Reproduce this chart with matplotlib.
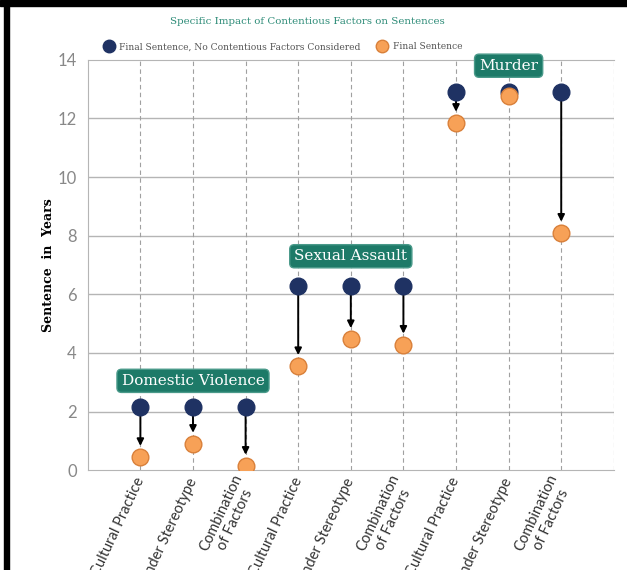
import matplotlib.pyplot as plt
import matplotlib.patches as patches
import numpy as np

# categories and values
factors = ['Cultural Practice', 'Gender Stereotype', 'Combination\nof Factors'] * 3
crimes = ['Domestic Violence', 'Sexual Assault', 'Murder']
no_factor = [2.15, 2.15, 2.15, 6.3, 6.3, 6.3, 12.9, 12.9, 12.9]
final = [0.45, 0.9, 0.15, 3.55, 4.47, 4.28, 11.85, 12.75, 8.1]
crime_label_y = [3.05, 7.3, 13.8]

navy = '#1f3263'
orange = '#f7a157'
teal = '#1d7a68'

fig = plt.figure(figsize=(6.27, 5.70), dpi=100)
ax = fig.add_axes([0.140, 0.175, 0.839, 0.720])

x = np.arange(1, len(factors) + 1)

# grid
ax.set_xlim(0, 10)
ax.set_ylim(0, 14)
ax.set_yticks(range(0, 15, 2))
for yv in range(2, 14, 2):
    ax.axhline(yv, color='#b5b5b5', lw=1, zorder=0)
for xv in list(x) + [10]:
    ax.axvline(xv, color='#a0a0a0', lw=0.8, ls=(0, (4, 3)), zorder=0)
for s in ['left', 'top', 'bottom']:
    ax.spines[s].set_color('#b5b5b5')
ax.spines['right'].set_visible(False)

# arrows from no-factor sentence down to final sentence
for xi, a, b in zip(x, no_factor, final):
    if a - b > 0.3:
        ax.annotate('', xy=(xi, b), xytext=(xi, a),
                    arrowprops=dict(arrowstyle='-|>', color='black', lw=1.4,
                                    shrinkA=0, shrinkB=8, mutation_scale=10),
                    zorder=2)

ax.plot(x, no_factor, 'o', color=navy, ms=12, zorder=3, ls='none',
        label='Final Sentence, No Contentious Factors Considered')
ax.plot(x, final, 'o', color=orange, mec='#d9803a', mew=1, ms=12, zorder=4,
        ls='none', label='Final Sentence')

# crime group boxes
for i, (name, yl) in enumerate(zip(crimes, crime_label_y)):
    ax.text(x[i * 3 + 1], yl, name, ha='center', va='center', color='white',
            fontsize=11, family='DejaVu Serif', zorder=5,
            bbox=dict(boxstyle='round,pad=0.3,rounding_size=0.3', fc=teal,
                      ec='#4a9a8a', lw=1))

ax.set_xticks(x)
ax.set_xticklabels(factors, rotation=65, ha='right', va='center',
                   rotation_mode='anchor', multialignment='center',
                   fontsize=10.5, family='Lato', color='#333333')
ax.tick_params(axis='x', length=0, pad=6)
ax.tick_params(axis='y', length=0, labelsize=12, labelcolor='#888888', pad=8)
for lab in ax.get_yticklabels():
    lab.set_family('Lato')

ax.set_ylabel('Sentence  in  Years', fontsize=9, fontweight='bold',
              family='DejaVu Serif')
ax.yaxis.set_label_coords(-0.062, 0.5)

fig.text(0.49, 0.962, 'Specific Impact of Contentious Factors on Sentences',
         ha='center', va='center', color='#2e8c78', fontsize=7.4,
         family='DejaVu Serif')
fig.legend(loc='center', bbox_to_anchor=(0.448, 0.918), ncol=2, frameon=False,
           prop={'family': 'DejaVu Serif', 'size': 6.6},
           handletextpad=0.1, columnspacing=1.4, markerscale=0.75,
           labelcolor='#555555')

# black frame on left and top
fig.patches.append(patches.Rectangle((0.0, 0.989), 1.0, 0.011, transform=fig.transFigure,
                                     color='black', zorder=10))
fig.patches.append(patches.Rectangle((0.006, 0.0), 0.009, 1.0, transform=fig.transFigure,
                                     color='black', zorder=10))

fig.savefig('out.png', dpi=100)
